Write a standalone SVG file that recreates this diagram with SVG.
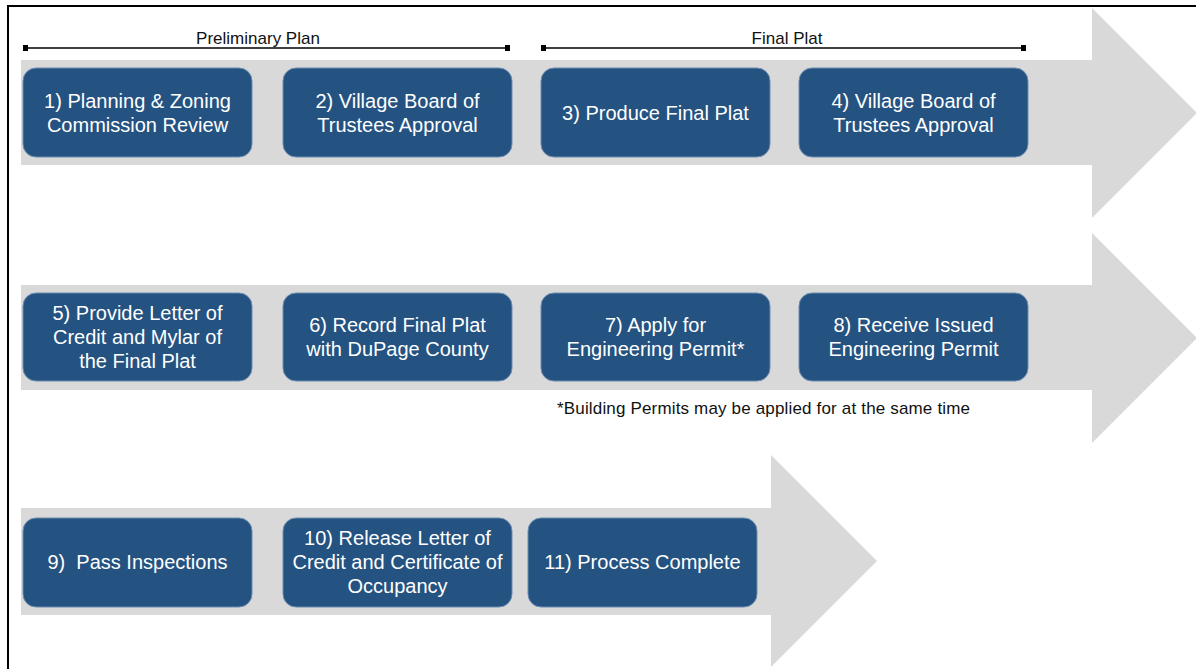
<svg xmlns="http://www.w3.org/2000/svg" width="1196" height="669" viewBox="0 0 1196 669">
  <style>
    .flow { fill: #d9d9d9; }
    .step rect { fill: #245281; stroke: #6b8db2; stroke-width: 1; }
    .step text { fill: #ffffff; font-family: "Liberation Sans", Arial, sans-serif; font-size: 20px; text-anchor: middle; }
    .phase text { fill: #111111; font-family: "Liberation Sans", Arial, sans-serif; font-size: 17px; text-anchor: middle; }
    .phase line { stroke: #000000; stroke-width: 1.5; }
    .phase rect { fill: #000000; }
    .note { fill: #111111; font-family: "Liberation Sans", Arial, sans-serif; font-size: 17px; }
  </style>

  <rect x="0" y="0" width="1196" height="669" fill="#ffffff"/>
  <!-- outer frame (open to the right and bottom) -->
  <rect x="8" y="6" width="1220" height="700" fill="none" stroke="#000000" stroke-width="2"/>

  <!-- flow arrows (connectors) -->
  <g id="connectors">
    <polygon class="flow" points="21,60 1092,60 1092,8 1197,113 1092,218 1092,165 21,165"/>
    <polygon class="flow" points="21,285 1092,285 1092,233 1197,338 1092,443 1092,390 21,390"/>
    <polygon class="flow" points="21,508 771,508 771,455 877,561 771,667 771,615 21,615"/>
  </g>

  <!-- phase brackets -->
  <g id="phase-preliminary" class="phase">
    <line x1="26" y1="48" x2="507" y2="48"/>
    <rect x="23" y="45" width="5" height="6"/>
    <rect x="505" y="45" width="5" height="6"/>
    <text x="258" y="44">Preliminary Plan</text>
  </g>
  <g id="phase-final" class="phase">
    <line x1="543" y1="48" x2="1024" y2="48"/>
    <rect x="541" y="45" width="5" height="6"/>
    <rect x="1021" y="45" width="5" height="6"/>
    <text x="787" y="44">Final Plat</text>
  </g>

  <!-- row 1 -->
  <g id="step1" class="step">
    <rect x="23" y="68" width="229" height="89" rx="13"/>
    <text x="137.5" y="108">1) Planning &amp; Zoning</text>
    <text x="137.5" y="132">Commission Review</text>
  </g>
  <g id="step2" class="step">
    <rect x="283" y="68" width="229" height="89" rx="13"/>
    <text x="397.5" y="108">2) Village Board of</text>
    <text x="397.5" y="132">Trustees Approval</text>
  </g>
  <g id="step3" class="step">
    <rect x="541" y="68" width="229" height="89" rx="13"/>
    <text x="655.5" y="120">3) Produce Final Plat</text>
  </g>
  <g id="step4" class="step">
    <rect x="799" y="68" width="229" height="89" rx="13"/>
    <text x="913.5" y="108">4) Village Board of</text>
    <text x="913.5" y="132">Trustees Approval</text>
  </g>

  <!-- row 2 -->
  <g id="step5" class="step">
    <rect x="23" y="293" width="229" height="88" rx="13"/>
    <text x="137.5" y="320">5) Provide Letter of</text>
    <text x="137.5" y="344">Credit and Mylar of</text>
    <text x="137.5" y="368">the Final Plat</text>
  </g>
  <g id="step6" class="step">
    <rect x="283" y="293" width="229" height="88" rx="13"/>
    <text x="397.5" y="332">6) Record Final Plat</text>
    <text x="397.5" y="356">with DuPage County</text>
  </g>
  <g id="step7" class="step">
    <rect x="541" y="293" width="229" height="88" rx="13"/>
    <text x="655.5" y="332">7) Apply for</text>
    <text x="655.5" y="356">Engineering Permit*</text>
  </g>
  <g id="step8" class="step">
    <rect x="799" y="293" width="229" height="88" rx="13"/>
    <text x="913.5" y="332">8) Receive Issued</text>
    <text x="913.5" y="356">Engineering Permit</text>
  </g>
  <text id="footnote" class="note" x="557" y="414" textLength="413" lengthAdjust="spacing">*Building Permits may be applied for at the same time</text>

  <!-- row 3 -->
  <g id="step9" class="step">
    <rect x="23" y="518" width="229" height="89" rx="13"/>
    <text x="137.5" y="569" style="white-space:pre">9)  Pass Inspections</text>
  </g>
  <g id="step10" class="step">
    <rect x="283" y="518" width="229" height="89" rx="13"/>
    <text x="397.5" y="545">10) Release Letter of</text>
    <text x="397.5" y="569">Credit and Certificate of</text>
    <text x="397.5" y="593">Occupancy</text>
  </g>
  <g id="step11" class="step">
    <rect x="528" y="518" width="229" height="89" rx="13"/>
    <text x="642.5" y="569">11) Process Complete</text>
  </g>
</svg>
